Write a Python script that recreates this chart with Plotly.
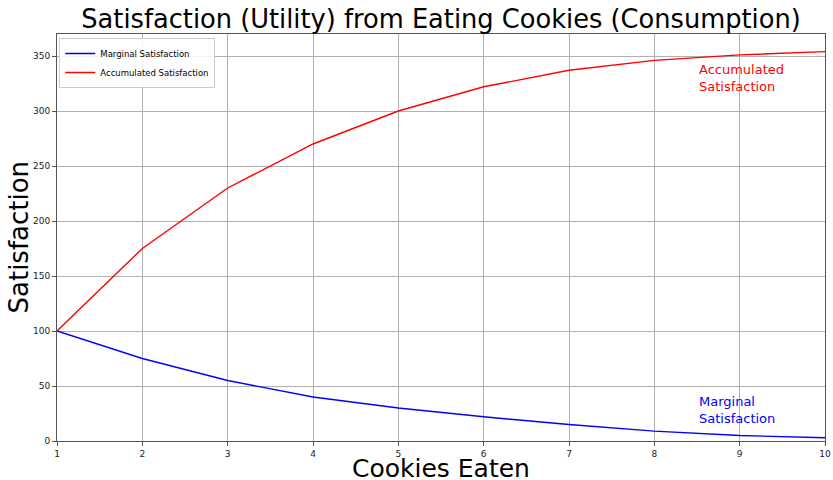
import plotly.graph_objects as go

cookies = [1, 2, 3, 4, 5, 6, 7, 8, 9, 10]
marginal = [100, 75, 55, 40, 30, 22, 15, 9, 5, 3]
accumulated = [100, 175, 230, 270, 300, 322, 337, 346, 351, 354]
y_ticks = [0, 50, 100, 150, 200, 250, 300, 350]

FONT = "DejaVu Sans"
fig = go.Figure()
fig.add_trace(go.Scatter(x=cookies, y=marginal, mode="lines", name="Marginal Satisfaction",
                         line=dict(color="blue", width=1.4)))
fig.add_trace(go.Scatter(x=cookies, y=accumulated, mode="lines", name="Accumulated Satisfaction",
                         line=dict(color="red", width=1.4)))

fig.add_annotation(x=8.5, y=314, text="Accumulated<br>Satisfaction", showarrow=False,
                   xanchor="left", yanchor="bottom", align="left",
                   font=dict(family=FONT, size=13, color="red"))
fig.add_annotation(x=8.5, y=12, text="Marginal<br>Satisfaction", showarrow=False,
                   xanchor="left", yanchor="bottom", align="left",
                   font=dict(family=FONT, size=13, color="blue"))

# axis titles as annotations for precise placement
fig.add_annotation(x=0.5, y=0, xref="paper", yref="paper", text="Cookies Eaten",
                   showarrow=False, xanchor="center", yanchor="top", yshift=-11,
                   font=dict(family=FONT, size=25, color="black"))
fig.add_annotation(x=0, y=0.5, xref="paper", yref="paper", text="Satisfaction",
                   showarrow=False, xanchor="right", yanchor="middle", xshift=-22,
                   textangle=-90, font=dict(family=FONT, size=26, color="black"))

axis_common = dict(showline=True, linecolor="#555555", linewidth=1, mirror=True,
                   showgrid=True, gridcolor="#b0b0b0", gridwidth=1,
                   ticks="outside", ticklen=4, tickcolor="#555555", automargin=False,
                   tickfont=dict(family=FONT, size=9, color="#222222"), zeroline=False)

fig.update_layout(
    width=833, height=480,
    margin=dict(l=57, r=8, t=34, b=39, autoexpand=False),
    paper_bgcolor="white", plot_bgcolor="white",
    font=dict(family=FONT),
    title=dict(text="Satisfaction (Utility) from Eating Cookies (Consumption)",
               x=0.5, xanchor="center", xref="paper", yref="container",
               y=1 - 19 / 480, yanchor="middle", automargin=False,
               font=dict(family=FONT, size=25.7, color="black")),
    xaxis=dict(range=[1, 10], tickvals=cookies, **axis_common),
    yaxis=dict(range=[0, 370], tickvals=y_ticks, **axis_common),
    legend=dict(x=0.003, y=0.99, xanchor="left", yanchor="top",
                bgcolor="rgba(255,255,255,0.85)", bordercolor="#cccccc", borderwidth=1,
                font=dict(family=FONT, size=8.5, color="black"), tracegroupgap=0,
                itemwidth=30),
    showlegend=True,
)

fig.write_html("out.html", config={"displayModeBar": False},
               post_script="document.body.style.margin='0';")
